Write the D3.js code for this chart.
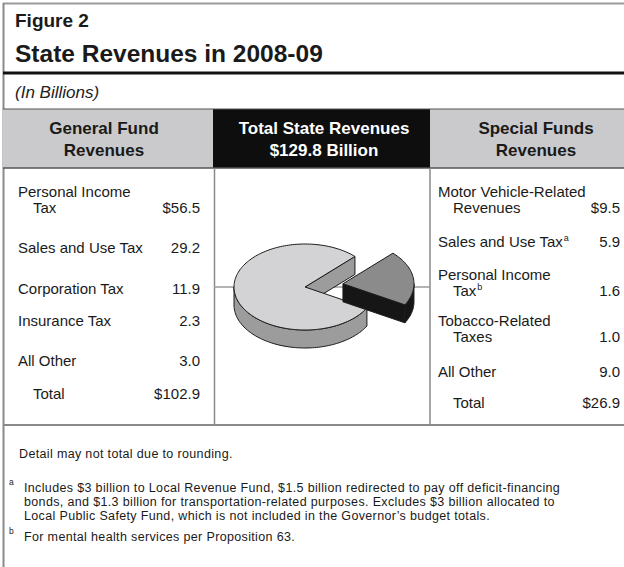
<!DOCTYPE html>
<html>
<head>
<meta charset="utf-8">
<script src="https://cdn.jsdelivr.net/npm/d3@7"></script>
<style>
  body { margin: 0; background: #fff; }
  svg { display: block; font-family: "Liberation Sans", Arial, sans-serif; }
</style>
</head>
<body>
<div class="canvas"></div>
<script>
// Chart data
const generalLabels = ["Personal Income|Tax", "Sales and Use Tax", "Corporation Tax", "Insurance Tax", "All Other"];
const generalValues = [56.5, 29.2, 11.9, 2.3, 3.0];
const generalTotal = 102.9;

const specialLabels = ["Motor Vehicle-Related|Revenues", "Sales and Use Tax^a", "Personal Income|Tax^b", "Tobacco-Related|Taxes", "All Other"];
const specialValues = [9.5, 5.9, 1.6, 1.0, 9.0];
const specialTotal = 26.9;

const stateTotal = 129.8;

const footnotes = [
  { mark: "", lines: ["Detail may not total due to rounding."] },
  { mark: "a", lines: [
      "Includes $3 billion to Local Revenue Fund, $1.5 billion redirected to pay off deficit-financing",
      "bonds, and $1.3 billion for transportation-related purposes. Excludes $3 billion allocated to",
      "Local Public Safety Fund, which is not included in the Governor\u2019s budget totals."] },
  { mark: "b", lines: ["For mental health services per Proposition 63."] }
];

// Layout
const width = 624, height = 567;
const col = { l0: 3, l1: 214, r0: 430, r1: 624 };
const headTop = 109, headBot = 168, bodyBot = 425;
const leftRowY = [197, 253, 294, 326, 366, 399];
const rightRowY = [197, 247, 280, 326, 377, 408];
const noteY = [[458], [492, 506, 520], [541]];

const svg = d3.select(".canvas")
  .append("svg")
    .attr("width", width)
    .attr("height", height);

const fmt = d3.format(".1f");

// frame and title
svg.append("line").attr("x1", 3).attr("x2", width).attr("y1", 3.5).attr("y2", 3.5)
  .attr("stroke", "#9a9a9a").attr("stroke-width", 2);
svg.append("line").attr("x1", 3.5).attr("x2", 3.5).attr("y1", 3).attr("y2", height)
  .attr("stroke", "#8a8a8a").attr("stroke-width", 2);

svg.append("text").attr("x", 15).attr("y", 27)
  .attr("font-size", 19).attr("font-weight", "bold").attr("fill", "#1a1a1a")
  .text("Figure 2");
svg.append("text").attr("x", 15).attr("y", 62)
  .attr("font-size", 24.5).attr("font-weight", "bold").attr("fill", "#1a1a1a")
  .text("State Revenues in 2008-09");
svg.append("line").attr("x1", 3).attr("x2", width).attr("y1", 73).attr("y2", 73)
  .attr("stroke", "#111").attr("stroke-width", 3);
svg.append("text").attr("x", 15).attr("y", 98)
  .attr("font-size", 17).attr("font-style", "italic").attr("fill", "#222")
  .text("(In Billions)");

// header band
svg.append("rect").attr("x", col.l0).attr("y", headTop).attr("width", col.l1 - col.l0).attr("height", headBot - headTop)
  .attr("fill", "#cacacc");
svg.append("rect").attr("x", col.l1 - 1).attr("y", headTop).attr("width", col.r0 - col.l1 + 1).attr("height", headBot - headTop)
  .attr("fill", "#0e0e0e");
svg.append("rect").attr("x", col.r0).attr("y", headTop).attr("width", col.r1 - col.r0).attr("height", headBot - headTop)
  .attr("fill", "#cacacc");
svg.append("line").attr("x1", 3).attr("x2", width).attr("y1", headTop).attr("y2", headTop)
  .attr("stroke", "#555").attr("stroke-width", 1.2);
svg.append("line").attr("x1", 3).attr("x2", width).attr("y1", headBot).attr("y2", headBot)
  .attr("stroke", "#555").attr("stroke-width", 1.5);

const heads = [
  { x: 104, lines: ["General Fund", "Revenues"], fill: "#1a1a1a" },
  { x: 324, lines: ["Total State Revenues", "$" + fmt(stateTotal) + " Billion"], fill: "#fff" },
  { x: 536, lines: ["Special Funds", "Revenues"], fill: "#1a1a1a" }
];
heads.forEach(h => {
  h.lines.forEach((t, i) => {
    svg.append("text").attr("x", h.x).attr("y", 134 + i * 22)
      .attr("text-anchor", "middle").attr("font-size", 17).attr("font-weight", "bold")
      .attr("fill", h.fill).text(t);
  });
});

// body dividers
[col.l1 + 0.5, col.r0].forEach(x => {
  svg.append("line").attr("x1", x).attr("x2", x).attr("y1", headBot).attr("y2", bodyBot)
    .attr("stroke", "#8a8a8a").attr("stroke-width", 1.5);
});
svg.append("line").attr("x1", 3).attr("x2", width).attr("y1", bodyBot).attr("y2", bodyBot)
  .attr("stroke", "#8a8a8a").attr("stroke-width", 2);

// revenue lists
function drawList(labels, values, total, x0, xRight, rowY) {
  const g = svg.append("g").attr("font-size", 15).attr("fill", "#1a1a1a");
  labels.forEach((lab, i) => {
    const lines = lab.split("|");
    lines.forEach((ln, j) => {
      const parts = ln.split("^");
      const t = g.append("text").attr("x", x0 + (j > 0 ? 15 : 0)).attr("y", rowY[i] + j * 16);
      t.append("tspan").text(parts[0]);
      if (parts[1]) t.append("tspan").attr("font-size", 9).attr("dy", -6).attr("dx", 1).text(parts[1]);
    });
    g.append("text").attr("x", xRight).attr("y", rowY[i] + (lines.length - 1) * 16)
      .attr("text-anchor", "end")
      .text((i === 0 ? "$" : "") + fmt(values[i]));
  });
  const n = labels.length;
  g.append("text").attr("x", x0 + 15).attr("y", rowY[n]).text("Total");
  g.append("text").attr("x", xRight).attr("y", rowY[n]).attr("text-anchor", "end").text("$" + fmt(total));
}
drawList(generalLabels, generalValues, generalTotal, 18, 200, leftRowY);
drawList(specialLabels, specialValues, specialTotal, 438, 620, rightRowY);

// 3D pie
const cx = 305, cy = 287, rx = 71, ry = 43, depth = 18;
svg.append("line").attr("x1", col.l1).attr("x2", col.r0).attr("y1", cy).attr("y2", cy)
  .attr("stroke", "#9a9a9a").attr("stroke-width", 1.5);

const rot = 82 * Math.PI / 180;   // middle of special-funds slice
const share = specialTotal / (specialTotal + generalTotal);
const pie = d3.pie().sort(null)
  .startAngle(rot - share * Math.PI)
  .endAngle(rot - share * Math.PI + 2 * Math.PI);
const arcs = pie([specialTotal, generalTotal]);
const styles = [
  { top: "#8b8b8b", side: "#161616", explode: 0.54 },
  { top: "#d3d3d5", side: "#9c9c9c", explode: 0 }
];

const line = d3.line();
function pt(a, r, off, dz) {
  return [cx + off[0] + rx * r * Math.sin(a), cy + off[1] - ry * r * Math.cos(a) + dz];
}
function arcPts(a0, a1, off, dz) {
  const n = Math.max(2, Math.ceil(Math.abs(a1 - a0) / 0.03));
  return d3.range(n + 1).map(k => pt(a0 + (a1 - a0) * k / n, 1, off, dz));
}

const pieG = svg.append("g").attr("stroke", "#1a1a1a").attr("stroke-width", 1).attr("stroke-linejoin", "round");
[1, 0].forEach(i => {
  const d = arcs[i], s = styles[i];
  const mid = (d.startAngle + d.endAngle) / 2;
  const off = [s.explode * rx * Math.sin(mid), -s.explode * ry * Math.cos(mid)];
  // radial walls facing the viewer
  [[d.startAngle, -1], [d.endAngle, 1]].forEach(([a, side]) => {
    const na = a + side * Math.PI / 2;
    if (Math.cos(na) < 0) {
      const pts = [pt(a, 0, off, 0), pt(a, 1, off, 0), pt(a, 1, off, depth), pt(a, 0, off, depth)];
      pieG.append("path").attr("d", line(pts) + "Z").attr("fill", s.side);
    }
  });
  // outer wall, front half only
  [0, 2 * Math.PI].forEach(k => {
    const lo = Math.max(d.startAngle, Math.PI / 2 + k);
    const hi = Math.min(d.endAngle, 3 * Math.PI / 2 + k);
    if (lo < hi) {
      const pts = arcPts(lo, hi, off, 0).concat(arcPts(hi, lo, off, depth));
      pieG.append("path").attr("d", line(pts) + "Z").attr("fill", s.side);
    }
  });
  // top face
  const topPts = [pt(0, 0, off, 0)].concat(arcPts(d.startAngle, d.endAngle, off, 0));
  pieG.append("path").attr("d", line(topPts) + "Z").attr("fill", s.top);
});

// footnotes
const fg = svg.append("g").attr("font-size", 12.5).attr("letter-spacing", 0.35).attr("fill", "#1a1a1a");
footnotes.forEach((f, i) => {
  const x = f.mark ? 24 : 19;
  if (f.mark) {
    fg.append("text").attr("x", 9).attr("y", noteY[i][0] - 7).attr("font-size", 8.5).text(f.mark);
  }
  f.lines.forEach((ln, j) => {
    fg.append("text").attr("x", x).attr("y", noteY[i][j]).text(ln);
  });
});
</script>
</body>
</html>
